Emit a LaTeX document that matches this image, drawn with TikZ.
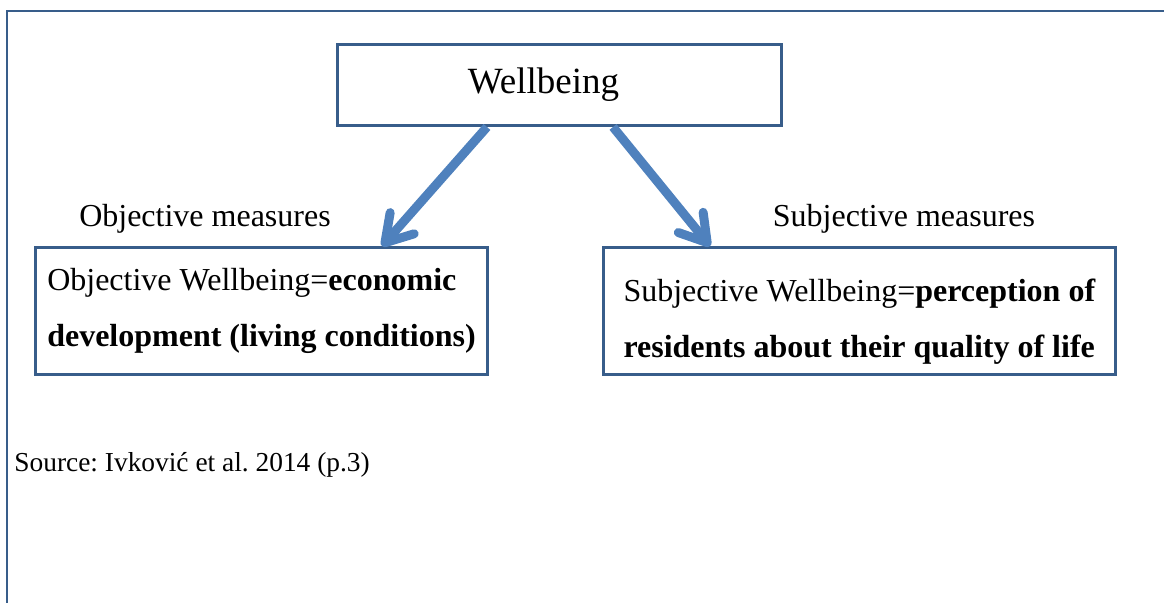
\documentclass[tikz,border=0pt]{standalone}
\usepackage{fontspec}
\setmainfont{Liberation Serif}
\usetikzlibrary{arrows.meta, positioning, calc}
\definecolor{frameblue}{RGB}{56, 93, 138}
\definecolor{arrowblue}{RGB}{79, 129, 189}
\frenchspacing

\begin{document}
\begin{tikzpicture}[
    x=0.5pt, y=-0.5pt,
    box/.style={rectangle, draw=frameblue, line width=1.3pt, align=left, inner sep=0pt, font=\fontsize{16pt}{28pt}\selectfont},
    measure/.style={anchor=base, inner sep=0pt, font=\fontsize{16pt}{19pt}\selectfont},
    arrow/.style={draw=arrowblue, line width=4.5pt, -{Straight Barb[length=13pt, width=16pt, round]}}
]
    \useasboundingbox (0,0) rectangle (1164,603);

    % outer frame
    \draw[frameblue, line width=1pt] (1164,11) -- (7,11) -- (7,603);

    \node[box, align=center, minimum width=222pt, minimum height=40.7pt, font=\fontsize{18.5pt}{22pt}\selectfont] (wellbeing) at (559.5,85) {Wellbeing\hspace*{16pt}};
    \node[box, minimum width=226pt, minimum height=63.6pt] (objective) at (261.5,311) {Objective Wellbeing=\textbf{economic}\\\textbf{development (living conditions)}};
    \node[box, minimum width=256pt, minimum height=63.6pt] (subjective) at (859.5,311) {\rule{0pt}{22pt}Subjective Wellbeing=\textbf{perception of}\\\textbf{residents about their quality of life}};

    \node[measure] (objmeasures) at ($(objective.north)+(-56.5,-20)$) {Objective measures};
    \node[measure] (subjmeasures) at ($(subjective.north)+(44.5,-20)$) {Subjective measures};

    \node[anchor=base west, inner sep=0pt, font=\fontsize{13.7pt}{16pt}\selectfont] (source) at (14,472) {Source: Ivković et al. 2014 (p.3)};

    \draw[arrow] ($(wellbeing.south)+(-72.5,0)$) -- ($(objective.north)+(120.5,0)$);
    \draw[arrow] ($(wellbeing.south)+(53.5,0)$) -- ($(subjective.north)+(-149.5,0)$);

\end{tikzpicture}
\end{document}
